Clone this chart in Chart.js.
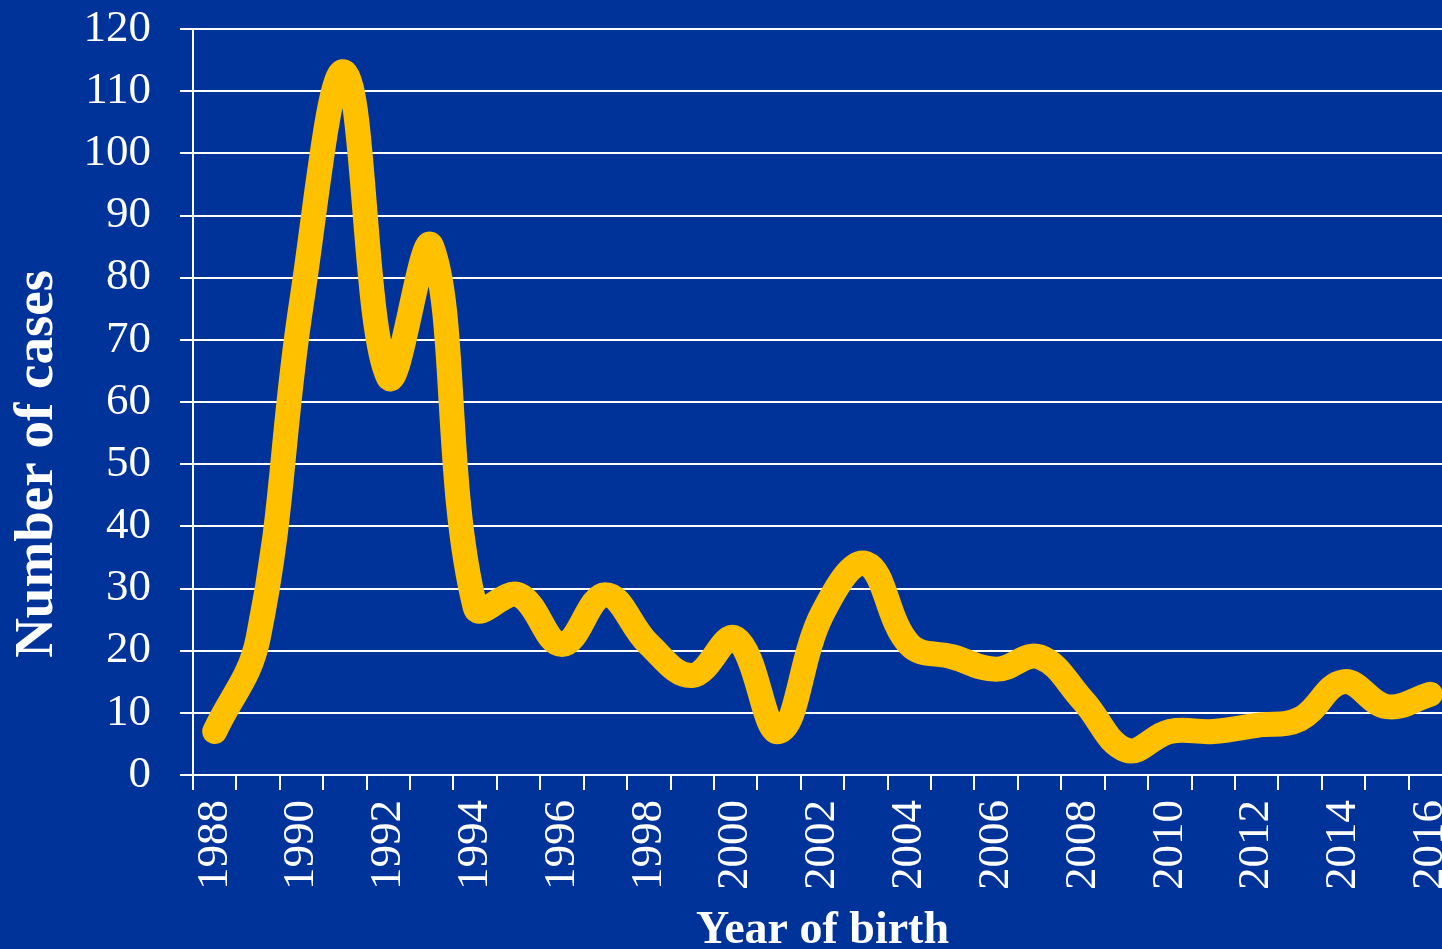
<!DOCTYPE html>
<html>
<head>
<meta charset="utf-8">
<script src="https://cdn.jsdelivr.net/npm/chart.js@4/dist/chart.umd.min.js"></script>
<style>
  html, body { margin: 0; padding: 0; background: #003399; overflow: hidden; }
  #wrap { width: 1452px; height: 949px; }
</style>
</head>
<body>
<div id="wrap"><canvas id="chart" width="1452" height="949"></canvas></div>
<script>
const years = ['1988','1989','1990','1991','1992','1993','1994','1995','1996','1997',
               '1998','1999','2000','2001','2002','2003','2004','2005','2006','2007',
               '2008','2009','2010','2011','2012','2013','2014','2015','2016'];
const cases = [7, 22, 76, 113, 64, 85, 27, 29, 21, 29,
               21, 16, 22, 7, 26, 34, 21, 19, 17, 19,
               12, 4, 7, 7, 8, 9, 15, 11, 13];
const yTicks = [0, 10, 20, 30, 40, 50, 60, 70, 80, 90, 100, 110, 120];

const serif = "'Liberation Serif', 'Times New Roman', serif";

let ctx = document.getElementById('chart').getContext('2d');

let chart = new Chart(ctx, {
    type: 'line',
    data: {
        labels: years,
        datasets: [{
            label: 'Number of cases',
            data: cases,
            borderColor: '#ffc000',
            borderWidth: 25,
            borderCapStyle: 'round',
            borderJoinStyle: 'round',
            pointRadius: 0,
            tension: 0.4,
            fill: false,
            clip: false
        }]
    },
    options: {
        responsive: false,
        animation: false,
        layout: { padding: { top: 29, left: 0, right: 0, bottom: 0 } },
        plugins: {
            legend: { display: false },
            tooltip: { enabled: false }
        },
        scales: {
            x: {
                offset: true,
                grid: {
                    offset: true,
                    drawOnChartArea: false,
                    drawTicks: true,
                    tickLength: 15,
                    color: '#ffffff',
                    lineWidth: 2
                },
                border: { color: '#ffffff', width: 2 },
                ticks: {
                    autoSkip: false,
                    maxRotation: 90,
                    minRotation: 90,
                    padding: 10,
                    color: '#ffffff',
                    font: { family: serif, size: 45 },
                    callback: function (value, index) {
                        return index % 2 === 0 ? years[index] : '';
                    }
                },
                title: {
                    display: true,
                    text: 'Year of birth',
                    color: '#ffffff',
                    font: { family: serif, size: 46, weight: 'bold', lineHeight: 1 },
                    padding: { top: 0, bottom: -5 }
                },
                afterFit: function (scale) {
                    scale.height = 174;
                    scale.paddingLeft = 0;
                    scale.paddingRight = 0;
                }
            },
            y: {
                min: 0,
                max: 120,
                afterBuildTicks: function (scale) {
                    scale.ticks = yTicks.map(v => ({ value: v }));
                },
                grid: {
                    color: '#ffffff',
                    lineWidth: 2,
                    drawTicks: true,
                    tickLength: 13
                },
                border: { color: '#ffffff', width: 2 },
                ticks: {
                    padding: 29,
                    color: '#ffffff',
                    font: { family: serif, size: 45 }
                },
                title: {
                    display: true,
                    // trailing spaces push the visible text down like in the original
                    text: 'Number of cases         ',
                    color: '#ffffff',
                    font: { family: serif, size: 55, weight: 'bold', lineHeight: 1.2 },
                    padding: { top: 5, bottom: 0 }
                },
                afterFit: function (scale) {
                    scale.width = 193;
                    scale.paddingTop = 0;
                    scale.paddingBottom = 0;
                }
            }
        }
    }
});
</script>
</body>
</html>
